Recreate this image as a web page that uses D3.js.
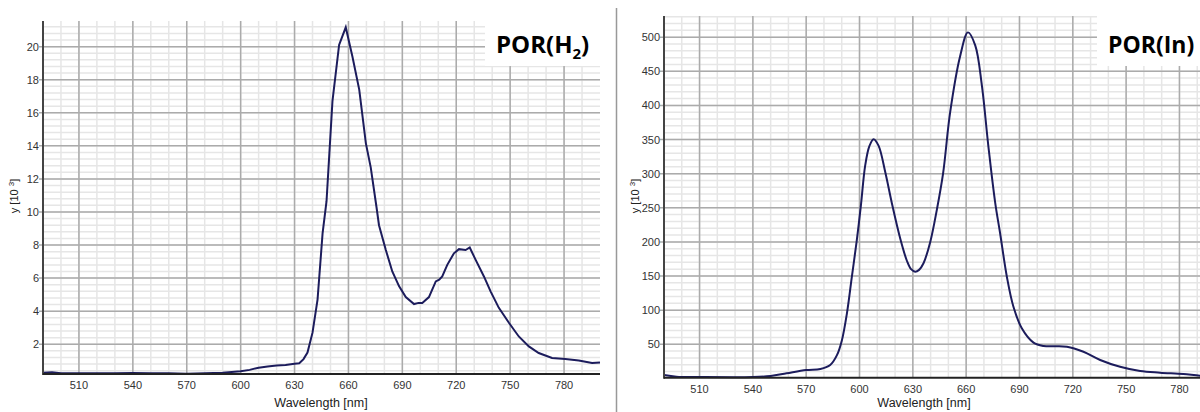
<!DOCTYPE html>
<html>
<head>
<meta charset="utf-8">
<script src="https://cdn.jsdelivr.net/npm/d3@7"></script>
<style>
  body { margin: 0; background: #fff; }
  svg { display: block; }
</style>
</head>
<body>
<div id="canvas"></div>
<script>
var w = 1200;
var h = 412;

// POR(H2) spectrum, values in 10^3
var h2Wave = [490, 495, 500, 510, 520, 530, 540, 550, 560, 570, 580, 590, 595, 600, 605, 610, 615, 620, 625, 630,
  632.6, 635, 637.2, 640, 642.8, 645.6, 647.8, 651.1, 654.8, 658.5, 662.2, 666, 669.7, 672.4, 675.6, 677,
  680.8, 684.4, 688.2, 691.9, 696.5, 699, 701.1, 704.8, 708.6, 710.5, 712.2, 715, 718.7, 721.5, 725.2, 727.5,
  730.8, 735.4, 739.1, 743.7, 749.3, 754.8, 760.4, 765.9, 773.3, 780.7, 788.2, 795.6, 800];
var h2Vals = [0.28, 0.3, 0.25, 0.25, 0.24, 0.25, 0.26, 0.24, 0.24, 0.22, 0.24, 0.28, 0.32, 0.36, 0.45, 0.58, 0.66, 0.72, 0.75, 0.82,
  0.85, 1.1, 1.5, 2.7, 4.7, 8.7, 10.65, 16.7, 20.1, 21.17, 19.4, 17.4, 14.15, 12.7, 10.3, 9.2,
  7.7, 6.4, 5.5, 4.85, 4.43, 4.5, 4.5, 4.85, 5.8, 5.9, 6.1, 6.8, 7.5, 7.75, 7.7, 7.85,
  7.1, 6.1, 5.2, 4.2, 3.3, 2.47, 1.87, 1.47, 1.17, 1.1, 1.02, 0.86, 0.9];

// POR(In) spectrum, values in 10^3
var inWave = [490, 497, 510, 540, 550, 559, 570, 578, 583.5, 587.3, 590.1, 592.9, 595.7, 598.5, 600.8, 603.2,
  605.5, 607.9, 610.7, 614.5, 618.2, 622.9, 626.7, 629, 631.3, 633.5, 636, 639.8, 643.5, 647, 651, 656.6, 661, 665.1,
  668.8, 672.5, 676.3, 679.1, 682.9, 686.6, 691.3, 697.9, 703.5, 716.7, 726, 735.4, 746.6, 757.9, 769.1,
  782.2, 791.6, 800];
var inVals = [5, 2.5, 2, 2, 3.5, 7.5, 12.3, 13.8, 19.6, 34, 56, 95, 149, 203, 254, 312,
  340, 350.5, 341, 302, 256.7, 205, 172, 160, 156.4, 159, 168.7, 200, 247, 300, 390, 472, 507, 488,
  430, 340, 258, 212.7, 149, 105, 73.4, 52.4, 47.5, 46.5, 39, 27, 17, 10.8, 8.4,
  6.4, 4, 3.5];

var xTicks = [510, 540, 570, 600, 630, 660, 690, 720, 750, 780];
var h2Ticks = [2, 4, 6, 8, 10, 12, 14, 16, 18, 20];
var inTicks = [50, 100, 150, 200, 250, 300, 350, 400, 450, 500];

var svg = d3.select("#canvas").append("svg")
  .attr("width", w)
  .attr("height", h)
  .style("background-color", "white");

function drawPanel(opt) {
  var g = svg.append("g");
  var x = d3.scaleLinear().domain([490, 800]).range([opt.left, opt.right]);
  var y = d3.scaleLinear().domain(opt.yDomain).range([opt.bottom, opt.top]);
  var visRight = Math.min(opt.right, w);

  // minor grid
  g.selectAll(".vminor")
    .data(d3.range(500, 800, 10))
    .join("line")
    .attr("x1", function(d){ return x(d); })
    .attr("x2", function(d){ return x(d); })
    .attr("y1", opt.top).attr("y2", opt.bottom)
    .attr("stroke", "#e6e6e6").attr("stroke-width", 1.5);
  g.selectAll(".hminor")
    .data(opt.minor)
    .join("line")
    .attr("x1", opt.left).attr("x2", visRight)
    .attr("y1", function(d){ return y(d); })
    .attr("y2", function(d){ return y(d); })
    .attr("stroke", "#e6e6e6").attr("stroke-width", 1.5);

  // major grid
  g.selectAll(".vmajor")
    .data(xTicks)
    .join("line")
    .attr("x1", function(d){ return x(d); })
    .attr("x2", function(d){ return x(d); })
    .attr("y1", opt.top).attr("y2", opt.bottom)
    .attr("stroke", "#ababab").attr("stroke-width", 1.5);
  g.selectAll(".hmajor")
    .data(opt.ticks)
    .join("line")
    .attr("x1", opt.left - 4).attr("x2", visRight)
    .attr("y1", function(d){ return y(d); })
    .attr("y2", function(d){ return y(d); })
    .attr("stroke", "#ababab").attr("stroke-width", 1.5);

  // spectrum
  g.append("path")
    .datum(opt.wave.map(function(d, i){ return [d, opt.vals[i]]; }))
    .attr("fill", "none")
    .attr("stroke", "#1c1c5c")
    .attr("stroke-width", 2)
    .attr("d", d3.line()
      .x(function(d){ return x(d[0]); })
      .y(function(d){ return y(d[1]); })
      .curve(opt.curve));

  // axes lines
  g.append("line")
    .attr("x1", opt.left).attr("x2", opt.left)
    .attr("y1", opt.top).attr("y2", opt.bottom + 1)
    .attr("stroke", "#444").attr("stroke-width", 2);
  g.append("line")
    .attr("x1", opt.left).attr("x2", visRight)
    .attr("y1", opt.bottom).attr("y2", opt.bottom)
    .attr("stroke", "#222").attr("stroke-width", 2);

  // tick labels
  g.selectAll(".xlab")
    .data(xTicks)
    .join("text")
    .attr("x", function(d){ return x(d); })
    .attr("y", opt.bottom + 15)
    .attr("text-anchor", "middle")
    .style("font-family", "Liberation Sans, Arial, sans-serif")
    .style("font-size", "11px")
    .attr("fill", "#333")
    .text(function(d){ return d; });
  g.selectAll(".ylab")
    .data(opt.ticks)
    .join("text")
    .attr("x", opt.left - 4)
    .attr("y", function(d){ return y(d) + 4; })
    .attr("text-anchor", "end")
    .style("font-family", "Liberation Sans, Arial, sans-serif")
    .style("font-size", "11px")
    .attr("fill", "#333")
    .text(function(d){ return d; });

  // axis titles
  g.append("text")
    .attr("x", opt.xTitleX)
    .attr("y", 407)
    .attr("text-anchor", "middle")
    .style("font-family", "Liberation Sans, Arial, sans-serif")
    .style("font-size", "12.5px")
    .attr("fill", "#222")
    .text("Wavelength [nm]");
  var yt = g.append("text")
    .attr("transform", "translate(" + (opt.left - 25) + ",196) rotate(-90)")
    .attr("text-anchor", "middle")
    .style("font-family", "Liberation Sans, Arial, sans-serif")
    .style("font-size", "11px")
    .attr("fill", "#222");
  yt.append("tspan").text("y [10 ");
  yt.append("tspan").attr("dy", -4).style("font-size", "8px").text("3");
  yt.append("tspan").attr("dy", 4).text("]");

  // title box
  g.append("rect")
    .attr("x", opt.boxX).attr("y", 0)
    .attr("width", opt.boxW).attr("height", 66)
    .attr("fill", "white");
  var t = g.append("text")
    .attr("x", opt.boxX + 11)
    .attr("y", 53)
    .style("font-family", "Open Sans, Noto Sans, sans-serif")
    .style("font-weight", "bold")
    .style("font-size", opt.titleSize)
    .attr("fill", "#000");
  opt.title(t);
}

drawPanel({
  left: 43, right: 600, top: 21, bottom: 374,
  yDomain: [0.2, 21.55],
  ticks: h2Ticks,
  minor: d3.range(0.4, 21.5, 0.4),
  wave: h2Wave, vals: h2Vals,
  curve: d3.curveLinear,
  xTitleX: 321,
  boxX: 485, boxW: 115,
  titleSize: "24px",
  title: function(t){
    t.append("tspan").text("POR(H");
    t.append("tspan").attr("dy", 6).style("font-size", "15px").text("2");
    t.append("tspan").attr("dy", -6).text(")");
  }
});

drawPanel({
  left: 664, right: 1215, top: 16, bottom: 377.7,
  yDomain: [1, 531],
  ticks: inTicks,
  minor: d3.range(10, 531, 10),
  wave: inWave, vals: inVals,
  curve: d3.curveCatmullRom,
  xTitleX: 924,
  boxX: 1097, boxW: 103,
  titleSize: "23px",
  title: function(t){
    t.append("tspan").text("POR(In)");
  }
});

// separator between the two panels
svg.append("line")
  .attr("x1", 616.5).attr("x2", 616.5)
  .attr("y1", 8).attr("y2", h)
  .attr("stroke", "#999").attr("stroke-width", 1.5);
</script>
</body>
</html>
